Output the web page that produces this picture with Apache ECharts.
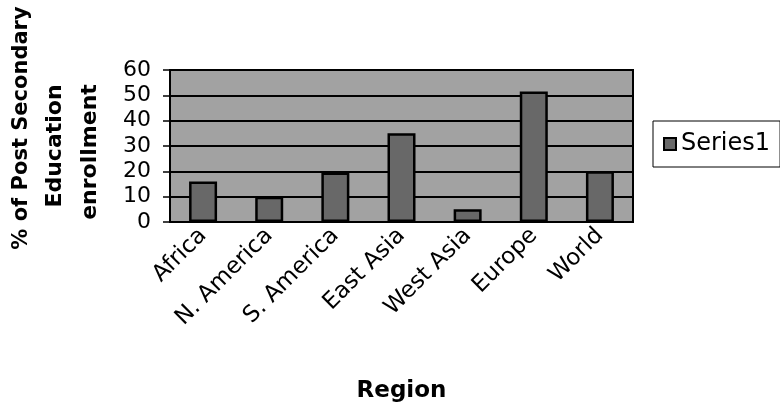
<!DOCTYPE html>
<html>
<head>
<meta charset="utf-8">
<script src="https://cdn.jsdelivr.net/npm/echarts@6/dist/echarts.min.js"></script>
<style>
  html, body { margin: 0; padding: 0; background: #fff; }
  #chart { width: 780px; height: 404px; }
</style>
</head>
<body>
<div id="chart"></div>
<script>
// Regions and their share of post secondary enrollment (%)
const regions = ['Africa', 'N. America', 'S. America', 'East Asia', 'West Asia', 'Europe', 'World'];
const series1 = [16, 10, 19.5, 35, 5, 51.5, 20];
const yTicks = [0, 10, 20, 30, 40, 50, 60];

const chart = echarts.init(document.getElementById('chart'));
const font = 'DejaVu Sans';

function titleLine(text, x, y, size) {
    return {
        type: 'text', x: x, y: y, rotation: Math.PI / 2,
        style: {
            text: text, fontFamily: font, fontSize: size, fontWeight: 'bold',
            fill: '#000', align: 'center', verticalAlign: 'middle'
        }
    };
}

const option = {
    animation: false,
    backgroundColor: '#fff',
    grid: {
        left: 170, right: 147, top: 70, bottom: 180,
        show: true,
        backgroundColor: '#a2a2a2',
        borderColor: '#000',
        borderWidth: 2
    },
    legend: {
        left: 653, top: 121,
        orient: 'vertical',
        data: ['Series1'],
        icon: 'rect',
        itemWidth: 12, itemHeight: 12, itemGap: 5,
        padding: [11, 10, 11, 10],
        borderColor: '#000', borderWidth: 1,
        backgroundColor: '#fff',
        textStyle: { fontFamily: font, fontSize: 24, color: '#000' }
    },
    xAxis: {
        type: 'category',
        data: regions,
        name: 'Region',
        nameLocation: 'middle',
        nameGap: 158,
        nameTextStyle: { fontFamily: font, fontSize: 23, fontWeight: 'bold', color: '#000' },
        axisLine: { lineStyle: { color: '#000', width: 2 } },
        axisTick: { length: 7, lineStyle: { color: '#000', width: 1.5 } },
        axisLabel: { rotate: 45, margin: 10, fontFamily: font, fontSize: 23, color: '#000' }
    },
    yAxis: {
        type: 'value',
        min: 0, max: 60, interval: 10,
        axisLine: { show: true, lineStyle: { color: '#000', width: 2 } },
        axisTick: { show: true, length: 7, lineStyle: { color: '#000', width: 1.5 } },
        axisLabel: {
            margin: 19, fontFamily: font, fontSize: 22, color: '#000',
            formatter: function (v) { return yTicks.indexOf(v) >= 0 ? String(v) : ''; }
        },
        splitLine: { lineStyle: { color: '#000', width: 2 } }
    },
    graphic: [
        titleLine('% of Post Secondary', 22, 128, 21),
        titleLine('Education', 55, 146, 22),
        titleLine('enrollment', 90, 152, 22)
    ],
    series: [{
        name: 'Series1',
        type: 'bar',
        data: series1,
        barWidth: 28,
        itemStyle: { color: '#686868', borderColor: '#000', borderWidth: 2.5 }
    }]
};

chart.setOption(option);
</script>
</body>
</html>
